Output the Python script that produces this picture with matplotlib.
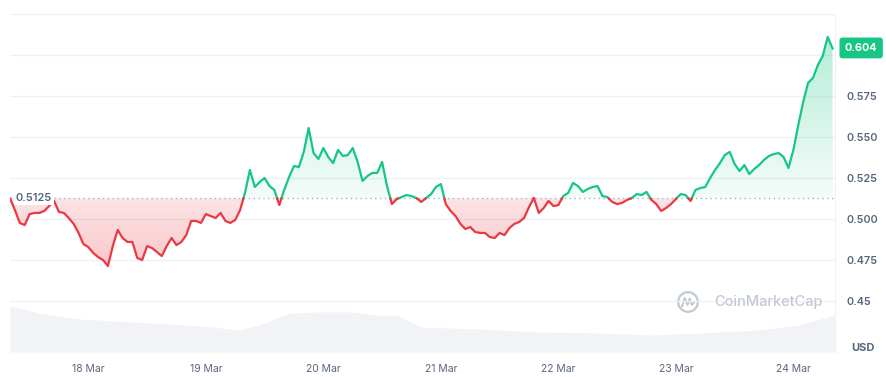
import numpy as np
import pandas as pd
import matplotlib
matplotlib.use("Agg")
import matplotlib.pyplot as plt
import matplotlib.dates as mdates
from matplotlib.path import Path
from matplotlib.patches import Circle
from matplotlib.transforms import blended_transform_factory

GREEN = "#16c784"
RED = "#ea3943"
GREY_TXT = "#58667e"
GRID = "#eff2f5"

# hourly closing prices, 17 Mar 08:00 -> 24 Mar 08:00
start = pd.Timestamp("2024-03-17 08:00")
price = [
    0.5125, 0.5055, 0.4976, 0.4963, 0.5030, 0.5037, 0.5037, 0.5049, 0.5079, 0.5110,
    0.5043, 0.5037, 0.5006, 0.4970, 0.4915, 0.4847, 0.4829, 0.4793, 0.4768, 0.4750,
    0.4713, 0.4835, 0.4933, 0.4884, 0.4860, 0.4860, 0.4762, 0.4750, 0.4835, 0.4823,
    0.4799, 0.4774, 0.4835, 0.4884, 0.4841, 0.4860, 0.4902, 0.4988, 0.4988, 0.4976,
    0.5030, 0.5018, 0.5006, 0.5037, 0.4988, 0.4976, 0.4994, 0.5055, 0.5160, 0.5299,
    0.5195, 0.5226, 0.5250, 0.5201, 0.5177, 0.5085, 0.5177, 0.5256, 0.5323, 0.5317,
    0.5409, 0.5555, 0.5402, 0.5366, 0.5433, 0.5378, 0.5341, 0.5421, 0.5384, 0.5390,
    0.5433, 0.5348, 0.5232, 0.5262, 0.5281, 0.5281, 0.5348, 0.5201, 0.5091, 0.5122,
    0.5134, 0.5146, 0.5140, 0.5128, 0.5104, 0.5128, 0.5152, 0.5195, 0.5213, 0.5091,
    0.5049, 0.5018, 0.4970, 0.4939, 0.4951, 0.4921, 0.4915, 0.4915, 0.4890, 0.4884,
    0.4915, 0.4902, 0.4945, 0.4970, 0.4982, 0.5006, 0.5073, 0.5128, 0.5037, 0.5067,
    0.5110, 0.5079, 0.5085, 0.5140, 0.5159, 0.5220, 0.5201, 0.5165, 0.5183, 0.5195,
    0.5201, 0.5140, 0.5134, 0.5104, 0.5091, 0.5098, 0.5116, 0.5128, 0.5152, 0.5146,
    0.5165, 0.5116, 0.5091, 0.5049, 0.5067, 0.5091, 0.5122, 0.5152, 0.5146, 0.5110,
    0.5177, 0.5189, 0.5195, 0.5250, 0.5299, 0.5341, 0.5390, 0.5409, 0.5335, 0.5293,
    0.5329, 0.5274, 0.5305, 0.5329, 0.5360, 0.5384, 0.5396, 0.5402, 0.5378, 0.5311,
    0.5421, 0.5573, 0.5713, 0.5830, 0.5860, 0.5939, 0.5994, 0.6110, 0.6040,
]
base_price = 0.5125
last_label = "0.604"

# volume profile (hours since start, volume in M USD)
vol_hours = [0, 6, 14, 29, 39, 47, 51, 57, 63, 70, 76, 79, 84, 89, 96, 108, 120, 131, 141, 153, 161, 168.5]
vol_values = [230, 195, 165, 145, 130, 110, 135, 195, 200, 200, 180, 185, 125, 120, 115, 100, 95, 85, 95, 110, 135, 185]

y_ticks = [0.45, 0.475, 0.500, 0.525, 0.550, 0.575]
y_labels = ["0.45", "0.475", "0.500", "0.525", "0.550", "0.575"]
grid_levels = [0.45, 0.475, 0.500, 0.525, 0.550, 0.575, 0.600, 0.625]
day_ticks = pd.date_range("2024-03-18", "2024-03-24", freq="D")

plt.rcParams["font.family"] = ["Inter", "DejaVu Sans"]

times = pd.date_range(start, periods=len(price), freq="h")
t = mdates.date2num(times)
p = np.array(price)

# add the crossing points with the opening price so colours switch cleanly
tt, pp = [t[0]], [p[0]]
for k in range(1, len(p)):
    a, b = p[k - 1] - base_price, p[k] - base_price
    if a * b < 0:
        f = a / (a - b)
        tt.append(t[k - 1] + f * (t[k] - t[k - 1]))
        pp.append(base_price)
    tt.append(t[k])
    pp.append(p[k])
tt, pp = np.array(tt), np.array(pp)
up = np.where(pp >= base_price - 1e-9, pp, np.nan)
dn = np.where(pp <= base_price + 1e-9, pp, np.nan)

fig = plt.figure(figsize=(8.86, 3.77), dpi=100)
ax = fig.add_axes([10 / 886, 25 / 377, 825 / 886, 338 / 377])
vax = ax.twinx()
ax.set_zorder(2)
ax.patch.set_visible(False)
vax.set_zorder(1)

x0 = mdates.date2num(start)
x1 = x0 + 168.5 / 24
y0, y1 = 0.4189, 0.625

# volume
vt = x0 + np.array(vol_hours) / 24
vax.fill_between(vt, 0, vol_values, color="#f1f3f6", lw=0)
vax.set_ylim(0, 1690)
vax.set_xlim(x0, x1)
vax.axis("off")

# grid lines
for g in grid_levels:
    ax.axhline(g, color=GRID, lw=1, zorder=0)


def gradient_fill(poly, color, a_low, a_high, lo, hi):
    rgb = matplotlib.colors.to_rgb(color)
    z = np.zeros((100, 1, 4))
    z[..., :3] = rgb
    z[:, 0, 3] = np.linspace(a_low, a_high, 100)
    im = ax.imshow(z, aspect="auto", extent=[x0, x1, lo, hi], origin="lower", zorder=1)
    im.set_clip_path(Path.make_compound_path(*poly.get_paths()), transform=ax.transData)
    poly.remove()


g_poly = ax.fill_between(tt, base_price, pp, where=pp >= base_price - 1e-9, lw=0)
r_poly = ax.fill_between(tt, base_price, pp, where=pp <= base_price + 1e-9, lw=0)
gradient_fill(g_poly, GREEN, 0.05, 0.32, base_price, 0.612)
gradient_fill(r_poly, RED, 0.28, 0.14, 0.47, base_price)

ax.plot(tt, up, color=GREEN, lw=1.6, zorder=3, solid_joinstyle="round")
ax.plot(tt, dn, color=RED, lw=1.6, zorder=3, solid_joinstyle="round")
ax.axhline(base_price, color="#a6b0c3", lw=1, ls=(0, (1, 2.5)), zorder=2)

ax.set_xlim(x0, x1)
ax.set_ylim(y0, y1)

for s in ["top", "left", "bottom"]:
    ax.spines[s].set_visible(False)
ax.spines["right"].set_color(GRID)

ax.set_xticks(mdates.date2num(day_ticks))
ax.set_xticklabels([d.strftime("%-d %b") for d in day_ticks])
ax.tick_params(axis="x", length=0, pad=9, labelsize=7.5, labelcolor=GREY_TXT)
ax.yaxis.tick_right()
ax.set_yticks(y_ticks, y_labels)
ax.tick_params(axis="y", length=0, pad=8, labelsize=7.8, labelcolor=GREY_TXT)
for lab in ax.get_yticklabels():
    lab.set_fontweight("semibold")

tr = blended_transform_factory(ax.transAxes, ax.transData)
ax.text(0.007, base_price, "0.5125", transform=tr, ha="left", va="center",
        fontsize=8, fontweight="semibold", color=GREY_TXT, zorder=5,
        bbox=dict(boxstyle="square,pad=0.15", fc="white", ec="none"))
ax.text(1.012, 0.6043, last_label, transform=tr, ha="left", va="center",
        fontsize=7.8, fontweight="bold", color="white", zorder=5, clip_on=False,
        bbox=dict(boxstyle="round,pad=0.5,rounding_size=0.25", fc=GREEN, ec="none"))
fig.text(863 / 886, 1 - 348 / 377, "USD", ha="center", va="center",
         fontsize=8, fontweight="bold", color=GREY_TXT)

# watermark
fig.text(714 / 886, 1 - 302 / 377, "CoinMarketCap", ha="left", va="center",
         fontsize=10.5, fontweight="medium", color="#c3c9d3")
lax = fig.add_axes([676 / 886, 1 - 314 / 377, 24 / 886, 24 / 377])
lax.set_aspect("equal")
lax.set_xlim(-1.1, 1.1)
lax.set_ylim(-1.1, 1.1)
lax.axis("off")
lax.add_patch(Circle((0, 0), 0.9, fill=False, ec="#c3c9d3", lw=1.6))
lax.plot([-0.55, -0.3, -0.05, 0.15, 0.35, 0.55], [-0.4, 0.35, -0.25, 0.3, -0.25, -0.05],
         color="#c3c9d3", lw=1.6, solid_capstyle="round")

fig.savefig("out.png", dpi=100)
